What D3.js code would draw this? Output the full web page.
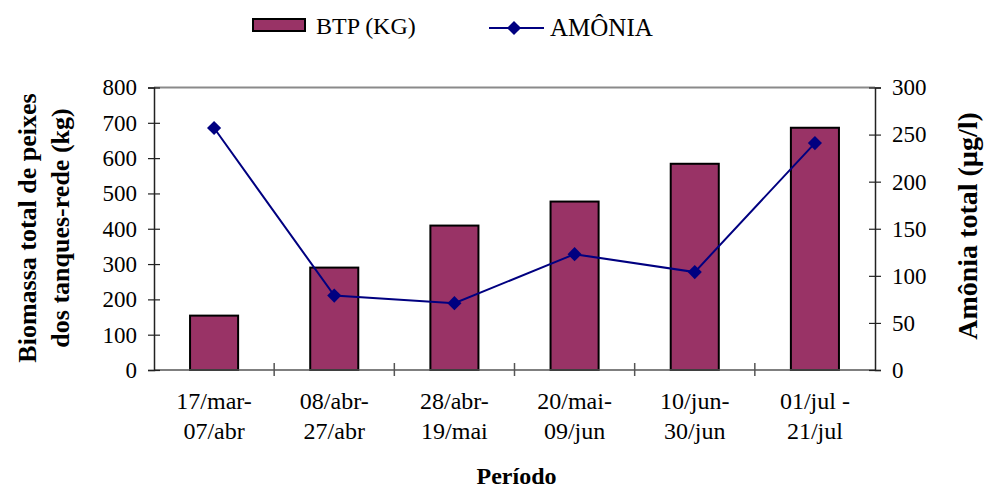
<!DOCTYPE html>
<html><head><meta charset="utf-8">
<script src="https://cdn.jsdelivr.net/npm/d3@7"></script>
<style>body{margin:0;background:#fff}text{font-family:"Liberation Serif","Times New Roman",serif;fill:#000}</style>
</head><body>
<svg id="c" width="984" height="490"></svg>
<script>
const categories = [["17/mar-","07/abr"],["08/abr-","27/abr"],["28/abr-","19/mai"],["20/mai-","09/jun"],["10/jun-","30/jun"],["01/jul -","21/jul"]];
const btp = [154, 290, 409, 477, 584, 686];
const amonia = [257, 79, 71, 123, 104, 241];
const leftTicks = [0,100,200,300,400,500,600,700,800];
const rightTicks = [0,50,100,150,200,250,300];

const svg = d3.select("#c");
const L = 154, R = 875, T = 87.5, B = 370;
const keys = categories.map((c,i)=>i);
const x = d3.scaleBand().domain(keys).range([L,R]).paddingInner(0.6).paddingOuter(0.3);
const yL = d3.scaleLinear().domain([0,800]).range([B,T]);
const yR = d3.scaleLinear().domain([0,300]).range([B,T]);

// top border
svg.append("line").attr("x1",L).attr("x2",R).attr("y1",T).attr("y2",T).attr("stroke","#8a8a8a").attr("stroke-width",2);

// bars
svg.append("g").selectAll("rect").data(btp).join("rect")
  .attr("x",(d,i)=>x(i)).attr("width",x.bandwidth())
  .attr("y",d=>yL(d)).attr("height",d=>B-yL(d))
  .attr("fill","#993366").attr("stroke","#000").attr("stroke-width",2);

// bottom axis line and ticks
svg.append("line").attr("x1",L).attr("x2",R).attr("y1",B).attr("y2",B).attr("stroke","#555").attr("stroke-width",1.5);
const bTicks = d3.range(categories.length+1).map(i=>x.range()[0]+i*x.step());
svg.append("g").selectAll("line").data(bTicks.slice(1,-1)).join("line")
  .attr("x1",d=>d).attr("x2",d=>d).attr("y1",B-7).attr("y2",B+6).attr("stroke","#555").attr("stroke-width",1.5);

// left axis
const gl = svg.append("g").attr("transform",`translate(${L},0)`).call(d3.axisLeft(yL).tickValues(leftTicks).tickSize(6).tickPadding(17));
gl.select(".domain").attr("stroke","#222").attr("stroke-width",1.5);
gl.selectAll(".tick line").attr("x1",6).attr("stroke","#222").attr("stroke-width",1.2);
gl.selectAll(".tick text").attr("font-size","23px").attr("font-family","Liberation Serif").attr("x",-17);

// right axis
const gr = svg.append("g").attr("transform",`translate(${R},0)`).call(d3.axisRight(yR).tickValues(rightTicks).tickSize(6).tickPadding(17));
gr.select(".domain").attr("stroke","#222").attr("stroke-width",1.5);
gr.selectAll(".tick line").attr("x1",-6).attr("stroke","#222").attr("stroke-width",1.2);
gr.selectAll(".tick text").attr("font-size","23px").attr("font-family","Liberation Serif").attr("x",17);

// line
const cx = i => x(i)+x.bandwidth()/2;
svg.append("path").datum(amonia)
  .attr("d",d3.line().x((d,i)=>cx(i)).y(d=>yR(d)))
  .attr("fill","none").attr("stroke","#000080").attr("stroke-width",2);
const diamond = d3.symbol(d3.symbolSquare, 100);
svg.append("g").selectAll("path").data(amonia).join("path")
  .attr("d",diamond).attr("transform",(d,i)=>`translate(${cx(i)},${yR(d)}) rotate(45)`)
  .attr("fill","#000080");

// x labels
const xl = svg.append("g").selectAll("text").data(categories).join("text")
  .attr("text-anchor","middle").attr("font-size","24px");
xl.append("tspan").attr("x",(d,i)=>cx(i)).attr("y",409).text(d=>d[0]);
xl.append("tspan").attr("x",(d,i)=>cx(i)).attr("y",439).text(d=>d[1]);

// axis titles
svg.append("text").attr("x",(L+R)/2+2).attr("y",484).attr("text-anchor","middle")
  .attr("font-size","24px").attr("font-weight","bold").text("Período");
const lt = svg.append("text").attr("transform","translate(0,228) rotate(-90)").attr("text-anchor","middle")
  .attr("font-size","26px").attr("font-weight","bold");
lt.append("tspan").attr("x",0).attr("y",36).text("Biomassa total de peixes");
lt.append("tspan").attr("x",0).attr("y",69).text("dos tanques-rede (kg)");
svg.append("text").attr("transform","translate(977,226) rotate(-90)").attr("text-anchor","middle")
  .attr("font-size","28px").attr("font-weight","bold").text("Amônia total (µg/l)");

// legend
svg.append("rect").attr("x",253).attr("y",19).attr("width",52).attr("height",12)
  .attr("fill","#993366").attr("stroke","#000").attr("stroke-width",2);
svg.append("text").attr("x",316).attr("y",34).attr("font-size","24px").text("BTP (KG)");
svg.append("line").attr("x1",489).attr("x2",544).attr("y1",28).attr("y2",28).attr("stroke","#000080").attr("stroke-width",2);
svg.append("path").attr("d",diamond).attr("transform","translate(514,28) rotate(45)").attr("fill","#000080");
svg.append("text").attr("x",550).attr("y",36).attr("font-size","25px").text("AMÔNIA");
</script>
</body></html>
